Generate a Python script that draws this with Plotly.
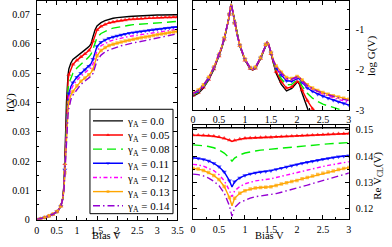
import plotly.graph_objects as go

# ------------------------------------------------------------------ data
gamma_labels = ["0.0", "0.05", "0.08", "0.11", "0.12", "0.13", "0.14"]

# Left panel: current I(V) vs bias
V_I = [0, 0.1, 0.2, 0.3, 0.4, 0.5, 0.55, 0.6, 0.65, 0.68, 0.7, 0.72, 0.74, 0.76, 0.78, 0.8,
       0.85, 0.9, 1.0, 1.1, 1.2, 1.3, 1.35, 1.4, 1.45,
       1.5, 1.6, 1.7, 1.8, 1.9, 2.0, 2.1, 2.2, 2.3, 2.4, 2.5, 2.6, 2.7, 2.8, 2.9, 3.0,
       3.1, 3.2, 3.3, 3.4, 3.5]
I_000 = [0, 0.0003, 0.0007, 0.0012, 0.0018, 0.0027, 0.0034, 0.0046, 0.0075, 0.012, 0.019, 0.030,
         0.040, 0.046, 0.0495, 0.0515, 0.0535, 0.0547, 0.0559, 0.0570, 0.0580, 0.0591, 0.0600,
         0.0625, 0.0648,
         0.0662, 0.0673, 0.0680, 0.0685, 0.0688, 0.0690, 0.0692, 0.0693, 0.0694, 0.0695, 0.0696,
         0.0697, 0.0697, 0.0698, 0.0698, 0.0699, 0.0699, 0.0699, 0.0700, 0.0700, 0.0700]
I_005 = [0, 0.0003, 0.0007, 0.0012, 0.0018, 0.0027, 0.0034, 0.0046, 0.0075, 0.012, 0.019, 0.029,
         0.038, 0.044, 0.0475, 0.0495, 0.0515, 0.0530, 0.0544, 0.0556, 0.0566, 0.0578, 0.0588,
         0.0610, 0.0633,
         0.0648, 0.0660, 0.0667, 0.0672, 0.0675, 0.0678, 0.0680, 0.0682, 0.0684, 0.0685, 0.0686,
         0.0687, 0.0688, 0.0689, 0.0689, 0.0690, 0.0690, 0.0691, 0.0691, 0.0692, 0.0692]
I_008 = [0, 0.0003, 0.0007, 0.0012, 0.0018, 0.0027, 0.0034, 0.0046, 0.0073, 0.0115, 0.018, 0.028,
         0.036, 0.0415, 0.0445, 0.0465, 0.0485, 0.0500, 0.0518, 0.0532, 0.0543, 0.0556, 0.0565,
         0.0582, 0.0606,
         0.0622, 0.0636, 0.0644, 0.0650, 0.0654, 0.0657, 0.0660, 0.0662, 0.0664, 0.0666, 0.0667,
         0.0668, 0.0669, 0.0670, 0.0671, 0.0673, 0.0674, 0.0675, 0.0676, 0.0676, 0.0677]
I_011 = [0, 0.0003, 0.0007, 0.0012, 0.0018, 0.0027, 0.0034, 0.0046, 0.0072, 0.011, 0.017, 0.026,
         0.033, 0.038, 0.041, 0.043, 0.0455, 0.0468, 0.0487, 0.0500, 0.0512, 0.0524, 0.0532,
         0.0548, 0.0572,
         0.0592, 0.0606, 0.0614, 0.0620, 0.0624, 0.0628, 0.0631, 0.0634, 0.0637, 0.0639, 0.0641,
         0.0643, 0.0645, 0.0647, 0.0649, 0.0651, 0.0652, 0.0654, 0.0655, 0.0657, 0.0658]
I_012 = [0, 0.0003, 0.0007, 0.0012, 0.0018, 0.0027, 0.0034, 0.0046, 0.0071, 0.011, 0.017, 0.025,
         0.032, 0.037, 0.040, 0.042, 0.0443, 0.0457, 0.0476, 0.0490, 0.0501, 0.0512, 0.0519,
         0.0532, 0.0556,
         0.0577, 0.0594, 0.0603, 0.0609, 0.0613, 0.0617, 0.0620, 0.0623, 0.0626, 0.0628, 0.0630,
         0.0632, 0.0634, 0.0636, 0.0638, 0.0641, 0.0643, 0.0645, 0.0646, 0.0648, 0.0650]
I_013 = [0, 0.0003, 0.0007, 0.0012, 0.0018, 0.0027, 0.0034, 0.0046, 0.0070, 0.0105, 0.016, 0.024,
         0.031, 0.035, 0.038, 0.040, 0.0425, 0.0438, 0.0457, 0.0473, 0.0484, 0.0495, 0.0502,
         0.0513, 0.0538,
         0.0560, 0.0578, 0.0588, 0.0595, 0.0599, 0.0603, 0.0607, 0.0610, 0.0613, 0.0616, 0.0619,
         0.0621, 0.0624, 0.0626, 0.0629, 0.0632, 0.0634, 0.0636, 0.0639, 0.0641, 0.0643]
I_014 = [0, 0.0003, 0.0007, 0.0012, 0.0018, 0.0027, 0.0034, 0.0046, 0.0070, 0.0105, 0.016, 0.023,
         0.029, 0.033, 0.036, 0.038, 0.0410, 0.0425, 0.0445, 0.0462, 0.0473, 0.0484, 0.0490,
         0.0499, 0.0521,
         0.0543, 0.0562, 0.0573, 0.0580, 0.0585, 0.0590, 0.0594, 0.0597, 0.0601, 0.0604, 0.0606,
         0.0609, 0.0612, 0.0615, 0.0618, 0.0621, 0.0624, 0.0627, 0.0630, 0.0632, 0.0635]

# Top-right panel: log G(V)
V_G = [0, 0.1, 0.2, 0.3, 0.4, 0.5, 0.55, 0.6, 0.65, 0.68, 0.7, 0.72, 0.73, 0.74, 0.76, 0.78,
       0.8, 0.85, 0.9, 1.0, 1.1, 1.15, 1.2, 1.3, 1.35, 1.4, 1.43, 1.45, 1.5, 1.55, 1.6,
       1.7, 1.8, 1.9, 1.95, 2.0, 2.02, 2.05, 2.1, 2.2, 2.3, 2.4, 2.5, 2.6, 2.7, 2.8, 2.9, 3.0]
logG_000 = [-2.65, -2.58, -2.45, -2.25, -1.99, -1.67, -1.47, -1.25, -0.98, -0.78, -0.62, -0.43,
            -0.37, -0.39, -0.52, -0.68, -0.84, -1.15, -1.40, -1.76, -1.97, -2.00, -1.96, -1.72,
            -1.55, -1.37, -1.31, -1.34, -1.60, -1.87, -2.08, -2.36, -2.52, -2.46, -2.38, -2.31,
            -2.30, -2.36, -2.58, -2.98, -3.30, -3.55, -3.75, -3.90, -4.00, -4.10, -4.20, -4.30]
logG_005 = [-2.63, -2.56, -2.43, -2.24, -1.98, -1.66, -1.46, -1.24, -0.98, -0.78, -0.62, -0.43,
            -0.37, -0.39, -0.52, -0.68, -0.84, -1.15, -1.40, -1.76, -1.97, -2.00, -1.96, -1.72,
            -1.55, -1.37, -1.31, -1.34, -1.60, -1.85, -2.04, -2.29, -2.45, -2.42, -2.35, -2.29,
            -2.28, -2.33, -2.50, -2.76, -2.96, -3.10, -3.20, -3.28, -3.35, -3.40, -3.45, -3.50]
logG_008 = [-2.62, -2.55, -2.42, -2.23, -1.97, -1.65, -1.45, -1.23, -0.97, -0.78, -0.62, -0.43,
            -0.37, -0.39, -0.52, -0.68, -0.84, -1.15, -1.40, -1.75, -1.96, -1.99, -1.95, -1.71,
            -1.54, -1.37, -1.31, -1.34, -1.59, -1.82, -2.00, -2.22, -2.37, -2.36, -2.30, -2.25,
            -2.24, -2.28, -2.40, -2.58, -2.70, -2.78, -2.85, -2.89, -2.93, -2.97, -3.01, -3.05]
logG_011 = [-2.60, -2.53, -2.40, -2.21, -1.95, -1.64, -1.44, -1.22, -0.97, -0.77, -0.62, -0.43,
            -0.37, -0.39, -0.52, -0.68, -0.84, -1.14, -1.39, -1.74, -1.95, -1.98, -1.94, -1.70,
            -1.54, -1.37, -1.31, -1.34, -1.58, -1.79, -1.95, -2.13, -2.27, -2.28, -2.25, -2.21,
            -2.20, -2.23, -2.31, -2.45, -2.53, -2.60, -2.65, -2.70, -2.75, -2.79, -2.83, -2.87]
logG_012 = [-2.59, -2.52, -2.39, -2.20, -1.95, -1.63, -1.44, -1.22, -0.96, -0.77, -0.62, -0.43,
            -0.37, -0.39, -0.52, -0.68, -0.84, -1.14, -1.39, -1.74, -1.95, -1.98, -1.94, -1.70,
            -1.54, -1.37, -1.31, -1.34, -1.58, -1.78, -1.93, -2.10, -2.23, -2.25, -2.22, -2.18,
            -2.17, -2.20, -2.28, -2.41, -2.49, -2.55, -2.60, -2.65, -2.69, -2.73, -2.77, -2.81]
logG_013 = [-2.57, -2.50, -2.37, -2.18, -1.93, -1.62, -1.43, -1.21, -0.96, -0.77, -0.61, -0.43,
            -0.37, -0.39, -0.52, -0.68, -0.83, -1.13, -1.38, -1.73, -1.94, -1.97, -1.93, -1.69,
            -1.53, -1.36, -1.31, -1.34, -1.57, -1.76, -1.90, -2.06, -2.19, -2.21, -2.19, -2.16,
            -2.15, -2.18, -2.25, -2.37, -2.45, -2.51, -2.56, -2.60, -2.64, -2.67, -2.70, -2.73]
logG_014 = [-2.58, -2.51, -2.38, -2.19, -1.94, -1.62, -1.43, -1.21, -0.96, -0.77, -0.61, -0.43,
            -0.37, -0.39, -0.52, -0.68, -0.83, -1.13, -1.38, -1.73, -1.94, -1.97, -1.93, -1.69,
            -1.53, -1.36, -1.31, -1.34, -1.57, -1.77, -1.92, -2.08, -2.21, -2.23, -2.20, -2.17,
            -2.16, -2.19, -2.27, -2.39, -2.47, -2.53, -2.58, -2.62, -2.66, -2.70, -2.73, -2.76]

# Bottom-right panel: Re V_CL(V)
V_R = [0, 0.1, 0.2, 0.3, 0.4, 0.5, 0.6, 0.7, 0.75, 0.8, 0.9, 1.0, 1.1, 1.2, 1.3, 1.4, 1.5,
       1.6, 1.7, 1.8, 1.9, 2.0, 2.1, 2.2, 2.3, 2.4, 2.5, 2.6, 2.7, 2.8, 2.9, 3.0]
ReV_000 = [0.1508] * 32
ReV_005 = [0.1480, 0.1480, 0.1479, 0.1478, 0.1476, 0.1473, 0.1468, 0.1461, 0.1456, 0.1460,
           0.1465, 0.1468, 0.1469, 0.1470, 0.1471, 0.1472, 0.1472, 0.1473, 0.1474, 0.1475,
           0.1476, 0.1477, 0.1478, 0.1479, 0.1480, 0.1481, 0.1482, 0.1483, 0.1484, 0.1485,
           0.1485, 0.1486]
ReV_008 = [0.1443, 0.1442, 0.1440, 0.1437, 0.1432, 0.1424, 0.1412, 0.1394, 0.1381, 0.1393,
           0.1405, 0.1412, 0.1417, 0.1420, 0.1423, 0.1425, 0.1427, 0.1429, 0.1431, 0.1433,
           0.1435, 0.1437, 0.1439, 0.1441, 0.1442, 0.1444, 0.1445, 0.1447, 0.1448, 0.1449,
           0.1451, 0.1452]
ReV_011 = [0.1394, 0.1392, 0.1388, 0.1382, 0.1373, 0.1360, 0.1340, 0.1307, 0.1283, 0.1303,
           0.1318, 0.1327, 0.1333, 0.1337, 0.1340, 0.1342, 0.1345, 0.1350, 0.1355, 0.1359,
           0.1364, 0.1368, 0.1373, 0.1377, 0.1381, 0.1385, 0.1389, 0.1392, 0.1395, 0.1398,
           0.1400, 0.1402]
ReV_012 = [0.1369, 0.1367, 0.1362, 0.1355, 0.1345, 0.1330, 0.1307, 0.1270, 0.1246, 0.1268,
           0.1285, 0.1295, 0.1301, 0.1306, 0.1309, 0.1311, 0.1314, 0.1319, 0.1324, 0.1329,
           0.1334, 0.1338, 0.1343, 0.1348, 0.1352, 0.1357, 0.1361, 0.1365, 0.1369, 0.1373,
           0.1376, 0.1379]
ReV_013 = [0.1353, 0.1351, 0.1346, 0.1338, 0.1327, 0.1311, 0.1285, 0.1243, 0.1212, 0.1240,
           0.1259, 0.1269, 0.1275, 0.1279, 0.1281, 0.1282, 0.1284, 0.1289, 0.1294, 0.1299,
           0.1304, 0.1308, 0.1314, 0.1319, 0.1325, 0.1330, 0.1335, 0.1340, 0.1344, 0.1349,
           0.1353, 0.1357]
ReV_014 = [0.1332, 0.1330, 0.1325, 0.1317, 0.1305, 0.1288, 0.1260, 0.1212, 0.1172, 0.1205,
           0.1224, 0.1234, 0.1241, 0.1246, 0.1249, 0.1251, 0.1253, 0.1258, 0.1263, 0.1268,
           0.1273, 0.1278, 0.1284, 0.1290, 0.1296, 0.1302, 0.1308, 0.1314, 0.1320, 0.1326,
           0.1331, 0.1336]

I_series = [I_000, I_005, I_008, I_011, I_012, I_013, I_014]
G_series = [logG_000, logG_005, logG_008, logG_011, logG_012, logG_013, logG_014]
R_series = [ReV_000, ReV_005, ReV_008, ReV_011, ReV_012, ReV_013, ReV_014]

# ------------------------------------------------------------------ style
W, H = 392, 247
FONT = "Liberation Serif"
colors = ["#000000", "#ff0000", "#00ee00", "#0000ff", "#ff00ff", "#ffa500", "#9400d3"]
dashes = ["solid", "solid", "9px,5px", "solid", "4px,2.5px,1.5px,2.5px", "solid",
          "7px,3px,1.5px,3px"]
symbols = [None, "triangle-up", None, "triangle-down", None, "square", None]
msize = [0, 4.5, 0, 4.5, 0, 3.5, 0]


def dom_x(a, b):
    return [a / W, b / W]


def dom_y(top, bottom):
    return [1 - bottom / H, 1 - top / H]


def sizes(vs, s):
    return [s if abs(v * 10 - round(v * 10)) < 1e-9 else 0 for v in vs]


fig = go.Figure()
panels = [(V_I, I_series, "x", "y"), (V_G, G_series, "x2", "y2"), (V_R, R_series, "x3", "y3")]
for p, (xs, series, xa, ya) in enumerate(panels):
    for k, ys in enumerate(series):
        tr = dict(x=xs, y=ys, xaxis=xa, yaxis=ya, name="γ<sub>A</sub> = " + gamma_labels[k],
                  line=dict(color=colors[k], width=1.4, dash=dashes[k]),
                  showlegend=(p == 0))
        if p == 0:
            tr["legend"] = "legend" if k == 0 else "legend%d" % (k + 1)
        if symbols[k]:
            tr["mode"] = "lines+markers"
            tr["marker"] = dict(symbol=symbols[k], size=sizes(xs, msize[k]), color=colors[k],
                                line=dict(width=0))
        else:
            tr["mode"] = "lines"
        fig.add_trace(go.Scatter(**tr))

axis_common = dict(showline=True, linecolor="black", linewidth=1, mirror="ticks",
                   ticks="inside", ticklen=4, tickwidth=1, tickcolor="black",
                   showgrid=False, zeroline=False,
                   tickfont=dict(family=FONT, size=10, color="black"))


def minor(dt):
    return dict(ticks="inside", ticklen=2, tickcolor="black", dtick=dt, showgrid=False)


layout = dict(
    width=W, height=H, margin=dict(l=0, r=0, t=0, b=0),
    paper_bgcolor="white", plot_bgcolor="white",
    font=dict(family=FONT, size=10, color="black"),
    xaxis=dict(axis_common, domain=dom_x(34.5, 178.5), range=[0, 3.5], dtick=0.5,
               minor=minor(0.25), anchor="y", ticklabelstandoff=1),
    yaxis=dict(axis_common, domain=dom_y(1, 225), range=[0, 0.0747], dtick=0.01,
               minor=minor(0.005), anchor="x", ticklabelstandoff=4),
    xaxis2=dict(axis_common, domain=dom_x(194.5, 354), range=[0, 3], dtick=0.5,
                minor=minor(0.25), anchor="y2", ticklabelstandoff=0),
    yaxis2=dict(axis_common, domain=dom_y(1, 113), range=[-3.0, -0.29], side="right",
                tickmode="array", tickvals=[-1, -2, -3], ticktext=["-1", "-2", "-3"],
                minor=dict(ticks="inside", ticklen=2, tickcolor="black", tickmode="linear",
                           tick0=0, dtick=0.5, showgrid=False),
                anchor="x2", ticklabelstandoff=4),
    xaxis3=dict(axis_common, domain=dom_x(194.5, 354), range=[0, 3], dtick=0.5,
                minor=minor(0.25), anchor="y3", ticklabelstandoff=1),
    yaxis3=dict(axis_common, domain=dom_y(128, 224), range=[0.1163, 0.1519], dtick=0.01,
                minor=minor(0.005), side="right", anchor="x3", ticklabelstandoff=4),
    shapes=[dict(type="rect", xref="paper", yref="paper",
                 x0=89 / W, x1=174 / W, y0=1 - 219 / H, y1=1 - 112 / H,
                 line=dict(color="black", width=1), fillcolor="white", layer="below")],
    annotations=[
        dict(text="I(V)", x=8 / W, y=1 - 105 / H, textangle=-90, size=11),
        dict(text="Bias V", x=106 / W, y=1 - 241.5 / H, size=10.5),
        dict(text="Bias V", x=273 / W, y=1 - 241.5 / H, size=10.5),
        dict(text="log G(V)", x=377 / W, y=1 - 57 / H, textangle=-90, size=11),
        dict(text="Re V<sub>CL</sub>(V)", x=383 / W, y=1 - 180 / H, textangle=-90, size=11),
    ],
)
for a in layout["annotations"]:
    fs = a.pop("size")
    a.update(xref="paper", yref="paper", showarrow=False, xanchor="center", yanchor="middle",
             font=dict(family=FONT, size=fs, color="black"))

for k in range(7):
    key = "legend" if k == 0 else "legend%d" % (k + 1)
    top_px = 109 + 14.5 * k
    layout[key] = dict(x=87 / W, y=1 - top_px / H, xanchor="left", yanchor="top",
                       bgcolor="rgba(0,0,0,0)", borderwidth=0,
                       font=dict(family=FONT, size=11, color="black"))

fig.update_layout(**layout)
fig.write_html("out.html", config={"displayModeBar": False},
               post_script="document.body.style.margin='0';document.body.style.padding='0';")
